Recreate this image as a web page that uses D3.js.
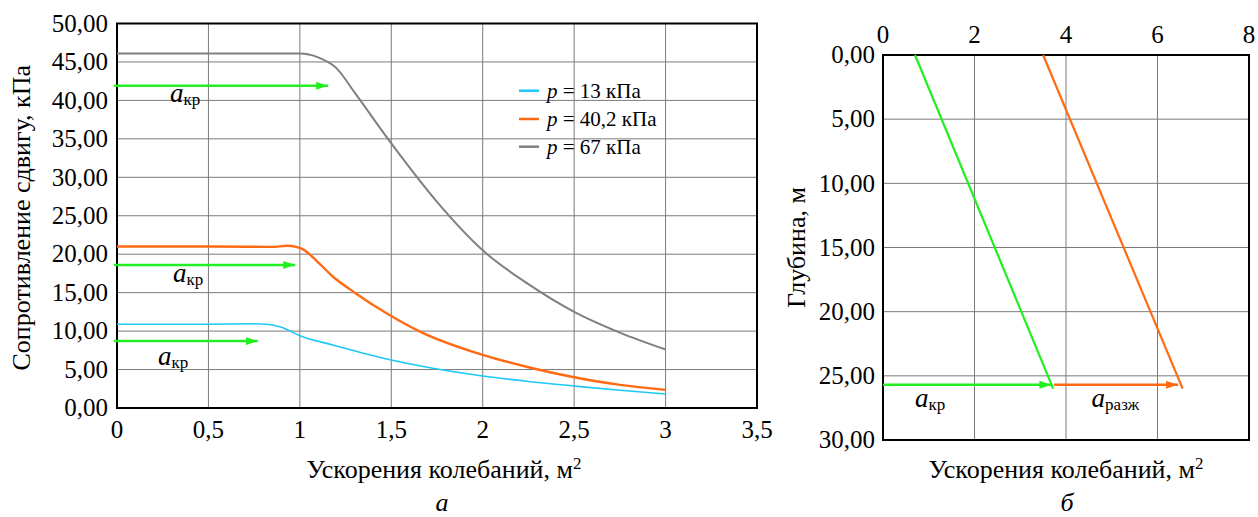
<!DOCTYPE html>
<html><head><meta charset="utf-8">
<script src="https://cdn.jsdelivr.net/npm/d3@7"></script>
<style>body{margin:0;background:#fff}svg{display:block}svg text{font-family:"Liberation Serif","Times New Roman","DejaVu Serif",serif;fill:#000}</style>
</head><body>
<script>
// ---- Data: chart (a) shear resistance vs vibration acceleration ----
const seriesLabelValues = ["13 кПа", "40,2 кПа", "67 кПа"];
const cyanX = [0, 0.5, 0.75, 0.82, 0.9, 1.0, 1.18, 1.5, 1.66, 2.0, 2.25, 2.5, 2.75, 3.0];
const cyanY = [10.9, 10.9, 10.95, 10.9, 10.5, 9.4, 8.2, 6.24, 5.46, 4.16, 3.45, 2.86, 2.3, 1.82];
const orangeX = [0, 0.5, 0.85, 0.93, 0.98, 1.02, 1.08, 1.18, 1.3, 1.49, 1.66, 2.0, 2.25, 2.5, 2.75, 3.0];
const orangeY = [21.0, 21.0, 20.95, 21.1, 20.95, 20.6, 19.4, 17.1, 15.0, 12.1, 9.9, 6.9, 5.3, 4.0, 3.0, 2.35];
const grayX = [0, 0.5, 1.0, 1.1, 1.2, 1.3, 1.5, 1.75, 2.0, 2.25, 2.5, 2.75, 3.0];
const grayY = [46.1, 46.1, 46.1, 45.6, 44.2, 41.0, 34.4, 26.8, 20.5, 16.1, 12.5, 9.8, 7.6];
const critArrowLevel = [41.9, 18.6, 8.7];
const critArrowEnd = [1.155, 0.975, 0.77];
const critLabelX = [0.29, 0.306, 0.224];
const critLabelY = [39.8, 16.4, 5.6];
const leftXTicks = [0, 0.5, 1, 1.5, 2, 2.5, 3, 3.5];
const leftYTicks = [0, 5, 10, 15, 20, 25, 30, 35, 40, 45, 50];

// ---- Data: chart (б) depth vs acceleration ----
const depthEnds = [0, 26];
const greenAccel = [0.7, 3.72];
const orangeAccel = [3.5, 6.55];
const arrowDepth = 25.7;
const greenArrow = [0, 3.68];
const orangeArrow = [3.74, 6.45];
const rightXTicks = [0, 2, 4, 6, 8];
const rightYTicks = [0, 5, 10, 15, 20, 25, 30];
const rightLabels = [{x: 0.7, y: 27.4, sub: "кр"}, {x: 4.56, y: 27.4, sub: "разж"}];

const C_CYAN = "#1ec8f8", C_ORANGE = "#ff6a13", C_GRAY = "#808080", C_GREEN = "#22ee22";
const FONT = "'Liberation Serif', 'Times New Roman', 'DejaVu Serif', serif";
const loc = d3.formatLocale({decimal: ",", thousands: " ", grouping: [3], currency: ["", ""]});
const f2 = loc.format(".2f");
const fx = v => loc.format("~g")(v);

const W = 1258, H = 517;
const svg = d3.select("body").append("svg").attr("width", W).attr("height", H)
  .attr("font-family", FONT).style("font-family", FONT);
const defs = svg.append("defs");
function marker(id, col) {
  defs.append("marker").attr("id", id).attr("viewBox", "0 0 12 8").attr("refX", 12).attr("refY", 4)
    .attr("markerWidth", 12).attr("markerHeight", 8).attr("markerUnits", "userSpaceOnUse").attr("orient", "auto")
    .append("path").attr("d", "M0,0L12,4L0,8Z").attr("fill", col);
}
marker("mg", C_GREEN); marker("mo", C_ORANGE);

// ===== Left chart =====
const xL = d3.scaleLinear().domain([0, 3.5]).range([117, 757]);
const yL = d3.scaleLinear().domain([0, 50]).range([408, 23.5]);
const gL = svg.append("g");
gL.append("g").selectAll("line").data(leftXTicks.slice(1, -1)).join("line")
  .attr("x1", d => xL(d)).attr("x2", d => xL(d)).attr("y1", yL(0)).attr("y2", yL(50))
  .attr("stroke", "#7a7a7a").attr("stroke-width", 1);
gL.append("g").selectAll("line").data(leftYTicks.slice(1, -1)).join("line")
  .attr("x1", xL(0)).attr("x2", xL(3.5)).attr("y1", d => yL(d)).attr("y2", d => yL(d))
  .attr("stroke", "#7a7a7a").attr("stroke-width", 1);
gL.append("rect").attr("x", xL(0)).attr("y", yL(50)).attr("width", xL(3.5) - xL(0)).attr("height", yL(0) - yL(50))
  .attr("fill", "none").attr("stroke", "#000").attr("stroke-width", 2);
gL.append("g").selectAll("text").data(leftYTicks).join("text")
  .attr("x", 108).attr("y", d => yL(d)).attr("dy", "0.33em").attr("text-anchor", "end")
  .style("font-size", "25px").text(d => f2(d));
gL.append("g").selectAll("text").data(leftXTicks).join("text")
  .attr("x", d => xL(d)).attr("y", 438).attr("text-anchor", "middle")
  .style("font-size", "25px").text(d => fx(d));
gL.append("text").attr("transform", "translate(30," + ((yL(0) + yL(50)) / 2 + 2) + ") rotate(-90)")
  .attr("text-anchor", "middle").style("font-size", "26px").text("Сопротивление сдвигу, кПа");
gL.append("text").attr("x", 444).attr("y", 478).attr("text-anchor", "middle").style("font-size", "26px")
  .html("Ускорения колебаний, м<tspan dy='-9' style='font-size:17px'>2</tspan>");
svg.append("text").attr("x", 442).attr("y", 511).attr("text-anchor", "middle").style("font-size", "26px").style("font-style", "italic").text("а");

const lineL = d3.line().x(d => xL(d[0])).y(d => yL(d[1])).curve(d3.curveMonotoneX);
const series = [
  {x: cyanX, y: cyanY, c: C_CYAN, w: 1.6},
  {x: orangeX, y: orangeY, c: C_ORANGE, w: 2.4},
  {x: grayX, y: grayY, c: C_GRAY, w: 2}
];
series.forEach(s => {
  gL.append("path").attr("d", lineL(s.x.map((v, i) => [v, s.y[i]])))
    .attr("fill", "none").attr("stroke", s.c).attr("stroke-width", s.w);
});
critArrowLevel.forEach((lv, i) => {
  gL.append("line").attr("x1", xL(0) - 3).attr("x2", xL(critArrowEnd[i])).attr("y1", yL(lv)).attr("y2", yL(lv))
    .attr("stroke", C_GREEN).attr("stroke-width", 2.5).attr("marker-end", "url(#mg)");
  const t = gL.append("text").attr("x", xL(critLabelX[i])).attr("y", yL(critLabelY[i])).style("font-size", "27px");
  t.append("tspan").style("font-style", "italic").text("a");
  t.append("tspan").attr("dy", 3).style("font-size", "17px").text("кр");
});
// legend
const legY = [90.7, 119, 146.7];
series.forEach((s, i) => {
  gL.append("line").attr("x1", 519).attr("x2", 539).attr("y1", legY[i]).attr("y2", legY[i])
    .attr("stroke", s.c).attr("stroke-width", 2.5);
  const t = gL.append("text").attr("x", 547).attr("y", legY[i] + 7).style("font-size", "21px");
  t.append("tspan").style("font-style", "italic").text("p");
  t.append("tspan").text(" = " + seriesLabelValues[i]);
});

// ===== Right chart =====
const xR = d3.scaleLinear().domain([0, 8]).range([883, 1249]);
const yR = d3.scaleLinear().domain([0, 30]).range([55, 440]);
const gR = svg.append("g");
gR.append("g").selectAll("line").data(rightXTicks.slice(1, -1)).join("line")
  .attr("x1", d => xR(d)).attr("x2", d => xR(d)).attr("y1", yR(0)).attr("y2", yR(30))
  .attr("stroke", "#7a7a7a").attr("stroke-width", 1);
gR.append("g").selectAll("line").data(rightYTicks.slice(1, -1)).join("line")
  .attr("x1", xR(0)).attr("x2", xR(8)).attr("y1", d => yR(d)).attr("y2", d => yR(d))
  .attr("stroke", "#7a7a7a").attr("stroke-width", 1);
gR.append("rect").attr("x", xR(0)).attr("y", yR(0)).attr("width", xR(8) - xR(0)).attr("height", yR(30) - yR(0))
  .attr("fill", "none").attr("stroke", "#000").attr("stroke-width", 2);
gR.append("g").selectAll("text").data(rightYTicks).join("text")
  .attr("x", 875).attr("y", d => yR(d)).attr("dy", "0.33em").attr("text-anchor", "end")
  .style("font-size", "25px").text(d => f2(d));
gR.append("g").selectAll("text").data(rightXTicks).join("text")
  .attr("x", d => xR(d)).attr("y", 43).attr("text-anchor", "middle")
  .style("font-size", "25px").text(d => fx(d));
gR.append("text").attr("transform", "translate(805," + ((yR(0) + yR(30)) / 2) + ") rotate(-90)")
  .attr("text-anchor", "middle").style("font-size", "26px").text("Глубина, м");
gR.append("text").attr("x", (xR(0) + xR(8)) / 2).attr("y", 478).attr("text-anchor", "middle").style("font-size", "26px")
  .html("Ускорения колебаний, м<tspan dy='-9' style='font-size:17px'>2</tspan>");
svg.append("text").attr("x", 1067).attr("y", 511).attr("text-anchor", "middle").style("font-size", "26px").style("font-style", "italic").text("б");

const lineR = d3.line().x(d => xR(d[0])).y(d => yR(d[1]));
gR.append("path").attr("d", lineR(greenAccel.map((v, i) => [v, depthEnds[i]])))
  .attr("fill", "none").attr("stroke", C_GREEN).attr("stroke-width", 2.2);
gR.append("path").attr("d", lineR(orangeAccel.map((v, i) => [v, depthEnds[i]])))
  .attr("fill", "none").attr("stroke", C_ORANGE).attr("stroke-width", 2.2);
gR.append("line").attr("x1", xR(greenArrow[0])).attr("x2", xR(greenArrow[1])).attr("y1", yR(arrowDepth)).attr("y2", yR(arrowDepth))
  .attr("stroke", C_GREEN).attr("stroke-width", 2.5).attr("marker-end", "url(#mg)");
gR.append("line").attr("x1", xR(orangeArrow[0])).attr("x2", xR(orangeArrow[1])).attr("y1", yR(arrowDepth)).attr("y2", yR(arrowDepth))
  .attr("stroke", C_ORANGE).attr("stroke-width", 2.5).attr("marker-end", "url(#mo)");
rightLabels.forEach(l => {
  const t = gR.append("text").attr("x", xR(l.x)).attr("y", yR(l.y)).style("font-size", "27px");
  t.append("tspan").style("font-style", "italic").text("a");
  t.append("tspan").attr("dy", 3).style("font-size", "17px").text(l.sub);
});
</script>
</body></html>
